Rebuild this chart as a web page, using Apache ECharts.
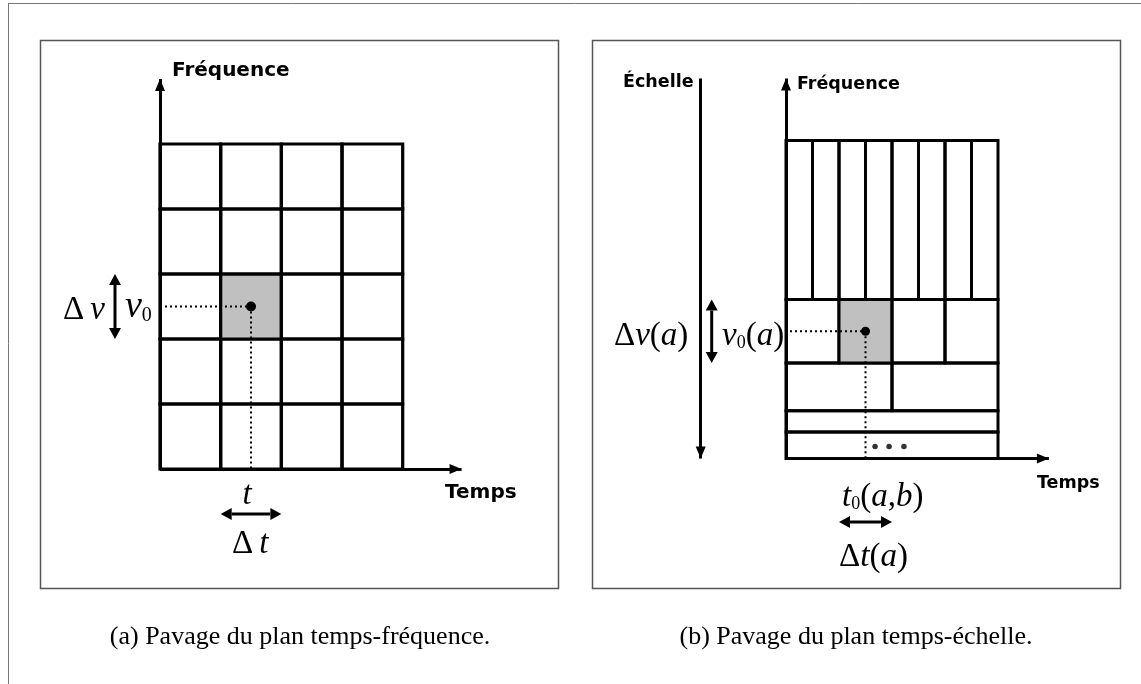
<!DOCTYPE html>
<html>
<head>
<meta charset="utf-8">
<script src="https://cdn.jsdelivr.net/npm/echarts@6/dist/echarts.min.js"></script>
<style>
  html, body { margin: 0; padding: 0; background: #fff; }
  #chart { width: 1141px; height: 684px; }
</style>
</head>
<body>
<div id="chart"></div>
<script>
// ---- panel (a): time-frequency tiling, 5 rows of 4 equal cells ----
const rowEdgesA = [0, 1, 2, 3, 4, 5];
const colsPerRowA = [4, 4, 4, 4, 4];
const widthA = 4;
const shadedA = [1, 2, 2, 3];            // x0, x1, y0, y1
const axisMaxA = [4.97, 6.0];            // time, frequency (arrow tips)

// ---- panel (b): time-scale tiling, cells halve in width going up ----
const rowEdgesB = [0, 1, 1.8, 3.6, 6, 12];
const colsPerRowB = [1, 1, 2, 4, 8];
const widthB = 8;
const shadedB = [2, 4, 3.6, 6];
const axisMaxB = [9.92, 14.34];
const ellipsisB = [[3.36, 0.45], [3.89, 0.45], [4.45, 0.45]];

// layout (pixels)
const originA = [160, 469], unitA = [60.675, 65];
const originB = [786, 458.5], unitB = [26.5, 26.5];

function buildCells(rowEdges, colsPerRow, width, shaded) {
  const out = [];
  for (let r = 0; r < colsPerRow.length; r++) {
    const n = colsPerRow[r], w = width / n;
    for (let c = 0; c < n; c++) {
      const x0 = c * w, x1 = (c + 1) * w, y0 = rowEdges[r], y1 = rowEdges[r + 1];
      const hit = x0 === shaded[0] && x1 === shaded[1] && y0 === shaded[2] && y1 === shaded[3];
      out.push([x0, x1, y0, y1, hit ? 1 : 0]);
    }
  }
  return out;
}

function renderCell(lw) {
  return function (params, api) {
    const p0 = api.coord([api.value(0), api.value(3)]);
    const p1 = api.coord([api.value(1), api.value(2)]);
    return {
      type: 'rect',
      shape: { x: p0[0], y: p0[1], width: p1[0] - p0[0], height: p1[1] - p0[1] },
      style: { fill: api.value(4) ? '#c0c0c0' : 'none', stroke: '#000', lineWidth: lw }
    };
  };
}

function arrowHead(tip, dir, len, half) {
  const bx = tip[0] - dir[0] * len, by = tip[1] - dir[1] * len;
  return {
    type: 'polygon',
    shape: { points: [tip, [bx - dir[1] * half, by + dir[0] * half], [bx + dir[1] * half, by - dir[0] * half]] },
    style: { fill: '#000' }
  };
}

function doubleArrow(a, b) {
  const dx = b[0] - a[0], dy = b[1] - a[1], L = Math.hypot(dx, dy);
  const d = [dx / L, dy / L], len = 11, half = 6;
  return [
    { type: 'line', shape: { x1: a[0] + d[0] * len, y1: a[1] + d[1] * len, x2: b[0] - d[0] * len, y2: b[1] - d[1] * len },
      style: { stroke: '#000', lineWidth: 3 } },
    arrowHead(a, [-d[0], -d[1]], len, half),
    arrowHead(b, d, len, half)
  ];
}

// dot at the centre of the shaded atom, dotted guides, and the width/height arrows
function renderMarker(opt) {
  return function (params, api) {
    const x0 = api.value(0), x1 = api.value(1), y0 = api.value(2), y1 = api.value(3);
    const c = api.coord([(x0 + x1) / 2, (y0 + y1) / 2]);
    const o = api.coord([0, 0]);
    const tl = api.coord([x0, y1]), br = api.coord([x1, y0]);
    const dotted = { stroke: '#000', lineWidth: 2, lineDash: [2, 3] };
    return {
      type: 'group',
      children: [
        { type: 'line', shape: { x1: o[0] + opt.hStart, y1: c[1], x2: c[0], y2: c[1] }, style: dotted },
        { type: 'line', shape: { x1: c[0], y1: c[1], x2: c[0], y2: o[1] }, style: dotted },
        { type: 'circle', shape: { cx: c[0], cy: c[1], r: opt.dot }, style: { fill: '#000' } }
      ].concat(
        doubleArrow([o[0] - opt.vGap, tl[1]], [o[0] - opt.vGap, br[1]]),
        doubleArrow([tl[0], o[1] + opt.hGap], [br[0], o[1] + opt.hGap])
      )
    };
  };
}

function axis(extra) {
  return Object.assign({
    type: 'value', min: 0,
    axisTick: { show: false }, axisLabel: { show: false }, splitLine: { show: false }
  }, extra);
}
function arrowLine(symbol, offset) {
  return { show: true, onZero: false, symbol: symbol, symbolSize: [10, 12], symbolOffset: offset,
    lineStyle: { color: '#000', width: 3, cap: 'butt' } };
}

const serif = '"Liberation Serif", "Times New Roman", serif';
const sans = '"DejaVu Sans", Verdana, sans-serif';
function rich(size, sub, subLh) {
  return {
    d: { fontFamily: serif, fontSize: size, lineHeight: size + 8, verticalAlign: 'bottom' },
    i: { fontFamily: serif, fontSize: size, fontStyle: 'italic', lineHeight: size + 8, verticalAlign: 'bottom' },
    s: { fontFamily: serif, fontSize: sub, lineHeight: subLh, verticalAlign: 'bottom' },
    g: { fontFamily: serif, fontSize: size, lineHeight: size + 8, verticalAlign: 'bottom', width: 6 }
  };
}
function label(x, y, text, size, align) {
  return { type: 'text', x: x, y: y, silent: true,
    style: { text: text, fontFamily: sans, fontWeight: 'bold', fontSize: size, fill: '#000',
      align: align || 'left', verticalAlign: 'middle' } };
}
function math(x, y, text, r, align) {
  return { type: 'text', x: x, y: y, silent: true,
    style: { text: text, rich: r, fill: '#000', align: align || 'left', verticalAlign: 'middle' } };
}
const richA = rich(33, 20, 14), richA2 = rich(38, 20, 12), richB = rich(33, 18, 16);

const chart = echarts.init(document.getElementById('chart'), null, { renderer: 'canvas' });
chart.setOption({
  backgroundColor: '#fff',
  animation: false,
  grid: [
    { left: originA[0], top: originA[1] - axisMaxA[1] * unitA[1], width: axisMaxA[0] * unitA[0],
      height: axisMaxA[1] * unitA[1], outerBoundsMode: 'none' },
    { left: originB[0], top: originB[1] - axisMaxB[1] * unitB[1], width: axisMaxB[0] * unitB[0],
      height: axisMaxB[1] * unitB[1], outerBoundsMode: 'none' }
  ],
  xAxis: [
    axis({ gridIndex: 0, max: axisMaxA[0], axisLine: arrowLine(['none', 'triangle'], [0, -6]) }),
    axis({ gridIndex: 1, max: axisMaxB[0], axisLine: arrowLine(['none', 'triangle'], [0, -6]) })
  ],
  yAxis: [
    axis({ gridIndex: 0, max: axisMaxA[1], axisLine: arrowLine(['none', 'triangle'], [0, -6]) }),
    axis({ gridIndex: 1, max: axisMaxB[1], axisLine: arrowLine(['none', 'triangle'], [0, -6]) }),
    // scale axis of panel (b), pointing down
    axis({ gridIndex: 1, max: axisMaxB[1], position: 'left', offset: 85.3,
      axisLine: arrowLine(['triangle', 'none'], [6, 0]) })
  ],
  series: [
    { type: 'custom', xAxisIndex: 0, yAxisIndex: 0, silent: true, encode: { x: [0, 1], y: [2, 3] },
      data: buildCells(rowEdgesA, colsPerRowA, widthA, shadedA), renderItem: renderCell(3.2) },
    { type: 'custom', xAxisIndex: 0, yAxisIndex: 0, silent: true, encode: { x: [0, 1], y: [2, 3] }, z: 3,
      data: [shadedA], renderItem: renderMarker({ hStart: 5, dot: 5, vGap: 45, hGap: 45 }) },
    { type: 'custom', xAxisIndex: 1, yAxisIndex: 1, silent: true, encode: { x: [0, 1], y: [2, 3] },
      data: buildCells(rowEdgesB, colsPerRowB, widthB, shadedB), renderItem: renderCell(3) },
    { type: 'custom', xAxisIndex: 1, yAxisIndex: 1, silent: true, encode: { x: [0, 1], y: [2, 3] }, z: 3,
      data: [shadedB], renderItem: renderMarker({ hStart: 4, dot: 4.5, vGap: 74.3, hGap: 63.5 }) },
    { type: 'scatter', xAxisIndex: 1, yAxisIndex: 1, silent: true, symbolSize: 5.5,
      itemStyle: { color: '#000' }, data: ellipsisB, z: 3 }
  ],
  graphic: [
    // page frame and sub-figure boxes
    { type: 'line', silent: true, shape: { x1: 8, y1: 3.5, x2: 1141, y2: 3.5 }, style: { stroke: '#777', lineWidth: 1 } },
    { type: 'line', silent: true, shape: { x1: 8.5, y1: 3, x2: 8.5, y2: 684 }, style: { stroke: '#777', lineWidth: 1 } },
    { type: 'rect', silent: true, shape: { x: 40.5, y: 40.5, width: 518, height: 548 }, style: { fill: 'none', stroke: '#555', lineWidth: 1.5 } },
    { type: 'rect', silent: true, shape: { x: 592.5, y: 40.5, width: 528, height: 548 }, style: { fill: 'none', stroke: '#555', lineWidth: 1.5 } },

    // panel (a) labels
    label(172, 71, 'Fréquence', 20),
    label(445, 493, 'Temps', 20),
    math(63, 306, '{d|Δ}{g|}{i|ν}', richA),
    math(125, 303, '{i|ν}{s|0}', richA2),
    math(247, 491, '{i|t}', richA, 'center'),
    math(232, 540, '{d|Δ}{g|}{i|t}', richA),

    // panel (b) labels
    label(623, 82, 'Échelle', 17.5),
    label(797, 84, 'Fréquence', 17.5),
    label(1037, 483, 'Temps', 17.5),
    math(614, 332, '{d|Δ}{i|ν}{d|(}{i|a}{d|)}', richB),
    math(722, 332, '{i|ν}{s|0}{d|(}{i|a}{d|)}', richB),
    math(842, 493, '{i|t}{s|0}{d|(}{i|a}{d|,}{i|b}{d|)}', richB),
    math(839, 553, '{d|Δ}{i|t}{d|(}{i|a}{d|)}', richB),

    // captions
    { type: 'text', x: 300, y: 637, silent: true,
      style: { text: '(a) Pavage du plan temps-fréquence.', fontFamily: serif, fontSize: 26, fill: '#000', align: 'center', verticalAlign: 'middle' } },
    { type: 'text', x: 856, y: 637, silent: true,
      style: { text: '(b) Pavage du plan temps-échelle.', fontFamily: serif, fontSize: 26, fill: '#000', align: 'center', verticalAlign: 'middle' } }
  ]
});
</script>
</body>
</html>
